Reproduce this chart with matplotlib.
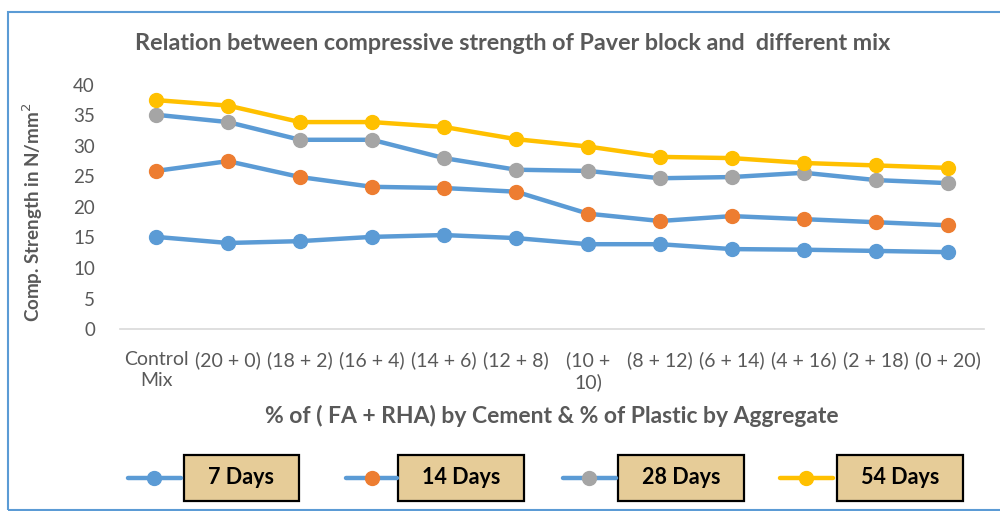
import matplotlib
matplotlib.use("Agg")
import matplotlib.pyplot as plt
from matplotlib.patches import Rectangle
from matplotlib.lines import Line2D

plt.rcParams['font.family'] = ['Lato', 'DejaVu Sans']

categories = ['Control\nMix', '(20 + 0)', '(18 + 2)', '(16 + 4)', '(14 + 6)', '(12 + 8)',
              '(10 +\n10)', '(8 + 12)', '(6 + 14)', '(4 + 16)', '(2 + 18)', '(0 + 20)']
days7 = [15.1, 14.1, 14.4, 15.1, 15.4, 14.9, 13.9, 13.9, 13.1, 13.0, 12.8, 12.6]
days14 = [25.9, 27.5, 24.9, 23.3, 23.1, 22.5, 18.9, 17.7, 18.5, 18.0, 17.5, 17.0]
days28 = [35.1, 33.9, 31.0, 31.0, 28.0, 26.1, 25.9, 24.7, 24.9, 25.6, 24.4, 23.9]
days54 = [37.5, 36.6, 33.9, 33.9, 33.1, 31.1, 29.9, 28.2, 28.0, 27.2, 26.8, 26.4]
series_names = ['7 Days', '14 Days', '28 Days', '54 Days']

blue = '#5B9BD5'
line_colors = [blue, blue, blue, '#FFC000']
marker_colors = ['#5B9BD5', '#ED7D31', '#A5A5A5', '#FFC000']
grey_txt = '#595959'

fig = plt.figure(figsize=(10, 5.11), dpi=100)
ax = fig.add_axes([0.12, 0.356, 0.864, 0.478])

x = list(range(len(categories)))
for vals, lc, mc in zip([days7, days14, days28, days54], line_colors, marker_colors):
    ax.plot(x, vals, color=lc, lw=3.2, marker='o', markersize=10,
            markerfacecolor=mc, markeredgecolor=mc, solid_capstyle='round')

ax.set_xlim(-0.5, len(categories) - 0.5)
ax.set_ylim(0, 40)
ax.set_yticks(range(0, 41, 5))
ax.set_xticks(x)
ax.set_xticklabels(categories, fontsize=14, color=grey_txt, linespacing=1.25)
ax.tick_params(axis='y', length=0, labelcolor=grey_txt, labelsize=13.5)
ax.tick_params(axis='x', length=0, pad=16)
ax.tick_params(axis='y', pad=18)
for s in ['top', 'right', 'left']:
    ax.spines[s].set_visible(False)
ax.spines['bottom'].set_color('#D9D9D9')
ax.spines['bottom'].set_linewidth(1.2)

fig.text(0.513, 0.915, 'Relation between compressive strength of Paver block and  different mix',
         ha='center', va='center', fontsize=16.8, fontweight='bold', color=grey_txt)
fig.text(0.552, 0.186, '% of ( FA + RHA) by Cement & % of Plastic by Aggregate',
         ha='center', va='center', fontsize=16.5, fontweight='bold', color=grey_txt)
fig.text(0.033, 0.585, 'Comp. Strength in N/mm$^2$', rotation=90,
         ha='center', va='center', fontsize=13.5, fontweight='bold', color=grey_txt)

# legend, drawn by hand
W, H = 1000, 511
leg_y = 478
items = [(128, 181, 154, 184, 299), (346, 397, 372, 398, 524),
         (563, 616, 589, 618, 744), (780, 833, 806, 837, 963)]
for (l0, l1, mx, b0, b1), name, lc, mc in zip(items, series_names, line_colors, marker_colors):
    fig.add_artist(Line2D([l0 / W, l1 / W], [1 - leg_y / H, 1 - leg_y / H],
                          color=lc, lw=3.2, solid_capstyle='round'))
    fig.add_artist(Line2D([mx / W], [1 - leg_y / H], marker='o', markersize=10,
                          color=mc, markeredgecolor=mc))
    fig.add_artist(Rectangle((b0 / W, 1 - 501 / H), (b1 - b0) / W, 46 / H,
                             facecolor='#E6CC98', edgecolor='black', lw=1.6))
    fig.text((b0 + b1) / 2 / W, 1 - leg_y / H, name, ha='center', va='center',
             fontsize=15.5, fontweight='bold', color='black')

# outer border of the chart area
fig.add_artist(Rectangle((8 / W, 1 - 510 / H), 1.1, (510 - 12) / H,
                         facecolor='none', edgecolor=blue, lw=1.5))

fig.savefig('out.png', dpi=100)
